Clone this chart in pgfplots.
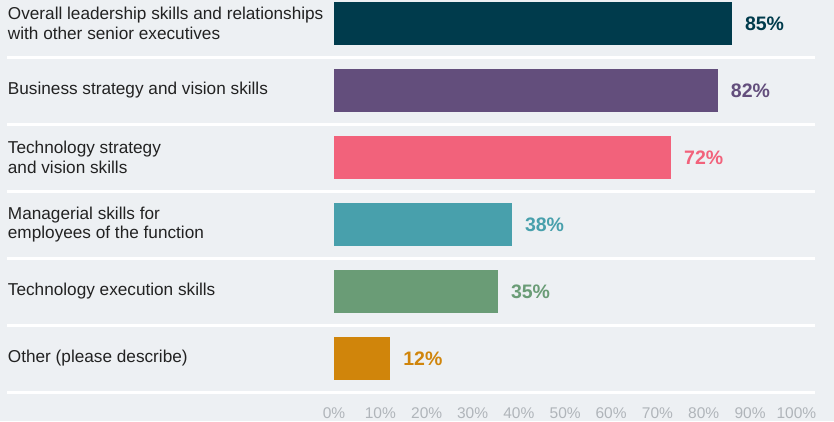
\documentclass[border=0pt]{standalone}
\usepackage{pgfplots}
\pgfplotsset{compat=1.18}
\usepackage{fontspec}
\setmainfont{Liberation Sans}
\definecolor{bg}{HTML}{EDF0F3}
\definecolor{c1}{HTML}{003B4C}
\definecolor{c2}{HTML}{634E7C}
\definecolor{c3}{HTML}{F2627B}
\definecolor{c4}{HTML}{48A0AC}
\definecolor{c5}{HTML}{6A9C76}
\definecolor{c6}{HTML}{D0850B}
\definecolor{tickgray}{HTML}{B0B5BA}
\definecolor{labgray}{HTML}{222222}
\begin{document}
\begin{tikzpicture}
\fill[bg] (0,0) rectangle (834pt,421pt);
\begin{axis}[
  at={(334pt,29pt)}, anchor=south west,
  scale only axis, width=468pt, height=402pt,
  xmin=0, xmax=100, ymin=-0.5, ymax=5.5,
  axis line style={draw=none}, tick style={draw=none},
  xbar, bar width=43pt, bar shift=0pt,
  clip=false,
  ytick={0,1,2,3,4,5},
  yticklabels={Other (please describe), Technology execution skills, {Managerial skills for\\employees of the function}, {Technology strategy\\and vision skills}, Business strategy and vision skills, {Overall leadership skills and relationships\\with other senior executives}},
  yticklabel style={anchor=west, align=left, inner sep=0pt, xshift=-322pt, font=\fontsize{17.2}{19.5}\selectfont, text=labgray},
  xtick={0,9.9,19.8,29.6,39.5,49.4,59.2,69.1,79,88.9,98.8},
  xticklabels={0\%,10\%,20\%,30\%,40\%,50\%,60\%,70\%,80\%,90\%,100\%},
  xticklabel style={font=\fontsize{15.5}{18}\selectfont, text=tickgray, anchor=base, inner sep=0pt, yshift=-26pt},
  /pgf/number format/assume math mode=true,
  nodes near coords={\pgfmathprintnumber{\pgfplotspointmeta}\%},
  nodes near coords style={font=\bfseries\fontsize{19.5}{23}\selectfont, anchor=west, inner sep=0pt, xshift=13pt},
]
\foreach \yy in {-0.5,0.5,1.5,2.5,3.5,4.5} {
  \edef\tmp{\noexpand\draw[white, line width=3pt] (axis cs:-69.9,\yy) -- (axis cs:102.8,\yy);}
  \tmp
}
\addplot[fill=c1, draw=none, every node near coord/.append style={text=c1}] coordinates {(85,5)};
\addplot[fill=c2, draw=none, every node near coord/.append style={text=c2}] coordinates {(82,4)};
\addplot[fill=c3, draw=none, every node near coord/.append style={text=c3}] coordinates {(72,3)};
\addplot[fill=c4, draw=none, every node near coord/.append style={text=c4}] coordinates {(38,2)};
\addplot[fill=c5, draw=none, every node near coord/.append style={text=c5}] coordinates {(35,1)};
\addplot[fill=c6, draw=none, every node near coord/.append style={text=c6}] coordinates {(12,0)};
\end{axis}
\pgfresetboundingbox
\useasboundingbox (0,0) rectangle (834pt,421pt);
\end{tikzpicture}
\end{document}
